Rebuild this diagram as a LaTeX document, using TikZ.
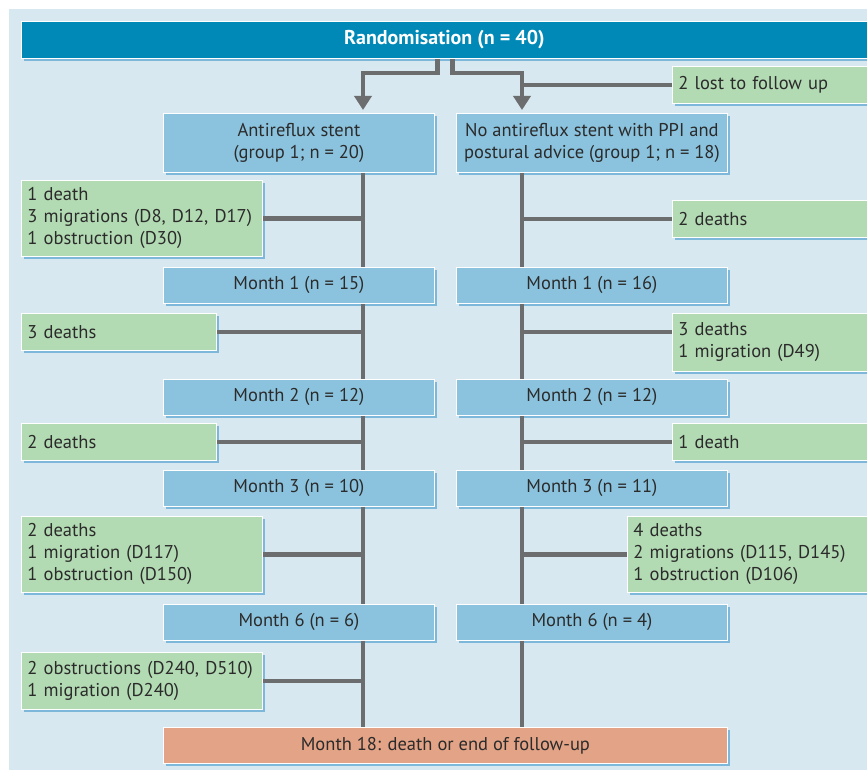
\documentclass[tikz,border=0pt]{standalone}
\usepackage{fontspec}
\setmainfont{PT Sans}
\usetikzlibrary{arrows.meta,shadows}
\definecolor{headblue}{HTML}{0089B7}
\definecolor{armblue}{HTML}{8BC3DE}
\definecolor{eventgreen}{HTML}{B3DBB3}
\definecolor{endorange}{HTML}{E3A386}
\definecolor{panelblue}{HTML}{D7E8F0}
\definecolor{shadeblue}{HTML}{74B3D8}
\definecolor{linegray}{HTML}{6C6D6F}
\definecolor{txtgray}{HTML}{2B2B2B}
\tikzset{
  box/.style={anchor=north west,draw=white,line width=0.8pt,text=txtgray,
    font=\fontsize{18.5}{22}\selectfont,inner xsep=6pt,inner ysep=2pt,
    drop shadow={shadow xshift=3pt,shadow yshift=-3pt,fill=shadeblue,opacity=0.9}},
  headbox/.style={box,fill=headblue,text=white,font=\fontsize{20}{22}\selectfont\bfseries,
    minimum width=846pt,minimum height=37pt},
  armbox/.style={box,fill=armblue,align=center,minimum width=271pt,minimum height=36pt},
  eventbox/.style={box,fill=eventgreen,align=left,minimum height=37pt},
  endbox/.style={box,fill=endorange,minimum width=564pt,minimum height=36pt},
  link/.style={draw=linegray,line width=4.5pt},
  flow/.style={link,-{Triangle[width=17pt,length=14pt]},shorten >=3pt}
}
\begin{document}
\begin{tikzpicture}[x=1pt,y=-1pt]
\useasboundingbox (0,0) rectangle (867,770);
\fill[panelblue] (9,9) rectangle (875,780);

\node[headbox] (rand) at (21,21) {Randomisation (n = 40)};
\node[eventbox,text width=188pt] (lost) at (672,66) {2 lost to follow up};

\node[armbox,minimum height=59pt] (arm1) at (163,113) {Antireflux stent\\(group 1; n = 20)};
\node[armbox,minimum height=59pt] (arm2) at (456,113) {No antireflux stent with PPI and\\postural advice (group 1; n = 18)};

\node[eventbox,text width=229pt,minimum height=76pt] (ev1l) at (21,180) {1 death\\3 migrations (D8, D12, D17)\\1 obstruction (D30)};
\node[eventbox,text width=188pt] (ev1r) at (672,200) {2 deaths};

\node[armbox] (m1l) at (163,267) {Month 1 (n = 15)};
\node[armbox] (m1r) at (456,267) {Month 1 (n = 16)};

\node[eventbox,text width=183pt] (ev2l) at (21,313) {3 deaths};
\node[eventbox,text width=188pt,minimum height=58pt] (ev2r) at (672,313) {3 deaths\\1 migration (D49)};

\node[armbox] (m2l) at (163,379) {Month 2 (n = 12)};
\node[armbox] (m2r) at (456,379) {Month 2 (n = 12)};

\node[eventbox,text width=183pt] (ev3l) at (21,423) {2 deaths};
\node[eventbox,text width=188pt] (ev3r) at (672,423) {1 death};

\node[armbox] (m3l) at (163,470) {Month 3 (n = 10)};
\node[armbox] (m3r) at (456,470) {Month 3 (n = 11)};

\node[eventbox,text width=229pt,minimum height=76pt] (ev4l) at (21,516) {2 deaths\\1 migration (D117)\\1 obstruction (D150)};
\node[eventbox,text width=233pt,minimum height=76pt] (ev4r) at (627,516) {4 deaths\\2 migrations (D115, D145)\\1 obstruction (D106)};

\node[armbox] (m6l) at (163,604) {Month 6 (n = 6)};
\node[armbox] (m6r) at (456,604) {Month 6 (n = 4)};

\node[eventbox,text width=229pt,minimum height=57pt] (ev5l) at (21,652) {2 obstructions (D240, D510)\\1 migration (D240)};

\node[endbox] (final) at (163,727) {Month 18: death or end of follow-up};

\coordinate (spineL) at (363,0);
\coordinate (spineR) at (522,0);

\draw[flow] ([xshift=-7pt]rand.south) -- ++(0,14) -| (arm1.north -| spineL);
\draw[flow] ([xshift=8pt]rand.south) -- ++(0,14) -| (arm2.north -| spineR);
\draw[link] (lost.west) -- (lost.west -| spineR);

\draw[link] (arm1.south -| spineL) -- (m1l.north -| spineL);
\draw[link] (m1l.south -| spineL) -- (m2l.north -| spineL);
\draw[link] (m2l.south -| spineL) -- (m3l.north -| spineL);
\draw[link] (m3l.south -| spineL) -- (m6l.north -| spineL);
\draw[link] (m6l.south -| spineL) -- (final.north -| spineL);

\draw[link] (arm2.south -| spineR) -- (m1r.north -| spineR);
\draw[link] (m1r.south -| spineR) -- (m2r.north -| spineR);
\draw[link] (m2r.south -| spineR) -- (m3r.north -| spineR);
\draw[link] (m3r.south -| spineR) -- (m6r.north -| spineR);
\draw[link] (m6r.south -| spineR) -- (final.north -| spineR);

\draw[link] (ev1l.east) -- (ev1l.east -| spineL);
\draw[link] (ev2l.east) -- (ev2l.east -| spineL);
\draw[link] (ev3l.east) -- (ev3l.east -| spineL);
\draw[link] (ev4l.east) -- (ev4l.east -| spineL);
\draw[link] (ev5l.east) -- (ev5l.east -| spineL);

\draw[link] (ev1r.west) -- (ev1r.west -| spineR);
\draw[link] (ev2r.west |- ev2l.east) -- (ev2l.east -| spineR);
\draw[link] (ev3r.west) -- (ev3r.west -| spineR);
\draw[link] (ev4r.west) -- (ev4r.west -| spineR);
\end{tikzpicture}
\end{document}
